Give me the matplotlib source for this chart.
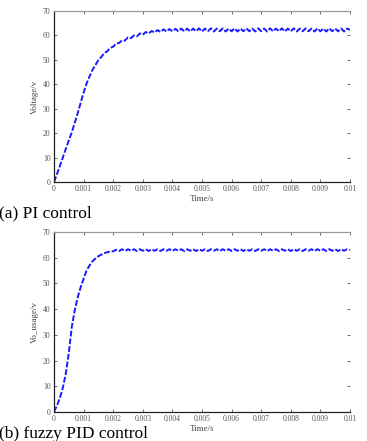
import matplotlib
matplotlib.use("Agg")
import matplotlib.pyplot as plt
import numpy as np

# time grid of the simulation traces (s)
time_s = np.linspace(0, 0.01, 101)

# (a) PI control output voltage
pi_voltage = [0.0, 3.2, 6.6, 10.1, 13.6, 17.0, 20.3, 24.2, 28.1, 32.4,
              36.6, 40.3, 43.2, 45.9, 47.9, 49.9, 51.2, 52.8, 53.5, 54.9,
              55.4, 56.7, 56.9, 58.0, 57.9, 59.2, 58.9, 60.0, 59.6, 60.8,
              60.3, 61.4, 60.8, 61.8, 61.2, 62.2, 61.4, 62.5, 61.6, 62.6,
              61.7, 62.7, 61.7, 62.8, 61.7, 62.8, 61.6, 62.8, 61.7, 62.9,
              61.6, 62.8, 61.7, 62.9, 61.6, 62.8, 61.7, 62.9, 61.6, 62.8,
              61.7, 62.9, 61.6, 62.8, 61.7, 62.9, 61.7, 62.8, 61.6, 62.9,
              61.7, 62.8, 61.6, 62.9, 61.7, 62.8, 61.7, 62.9, 61.6, 62.8,
              61.7, 62.9, 61.6, 62.8, 61.7, 62.9, 61.7, 62.8, 61.6, 62.9,
              61.7, 62.8, 61.6, 62.9, 61.7, 62.8, 61.7, 62.9, 61.6, 62.8,
              62.3]

# (b) fuzzy PID control output voltage
fpid_voltage = [0.0, 2.5, 5.5, 9.5, 15.0, 23.0, 33.0, 39.5, 44.5, 48.5,
                51.8, 55.0, 57.0, 58.6, 59.7, 60.6, 61.2, 61.8, 62.1, 62.5,
                62.5, 63.1, 62.6, 63.3, 62.6, 63.3, 62.7, 63.3, 62.6, 63.3,
                62.7, 63.3, 62.6, 63.3, 62.7, 63.3, 62.6, 63.3, 62.7, 63.3,
                62.6, 63.3, 62.7, 63.3, 62.6, 63.3, 62.7, 63.3, 62.6, 63.3,
                62.7, 63.3, 62.6, 63.3, 62.7, 63.3, 62.6, 63.3, 62.7, 63.3,
                62.6, 63.3, 62.7, 63.3, 62.6, 63.3, 62.7, 63.3, 62.6, 63.3,
                62.7, 63.3, 62.6, 63.3, 62.7, 63.3, 62.6, 63.3, 62.7, 63.3,
                62.6, 63.3, 62.7, 63.3, 62.6, 63.3, 62.7, 63.3, 62.6, 63.3,
                62.7, 63.3, 62.6, 63.3, 62.7, 63.3, 62.6, 63.3, 62.7, 63.3,
                63.0]

x_ticks = [0, 0.001, 0.002, 0.003, 0.004, 0.005, 0.006, 0.007, 0.008, 0.009, 0.01]
x_labels = ["0", "0.001", "0.002", "0.003", "0.004", "0.005",
            "0.006", "0.007", "0.008", "0.009", "0.01"]
y_ticks = [0, 10, 20, 30, 40, 50, 60, 70]

captions = ["(a) PI control", "(b) fuzzy PID control"]
ylabels = ["Voltage/v", "Vo_usage/v"]

W, H = 367, 441
fig = plt.figure(figsize=(W / 100, H / 100), dpi=100)
plt.rcParams["font.family"] = ["Liberation Serif", "DejaVu Serif"]


def style_axes(ax, ylabel):
    ax.set_xlim(0, 0.01)
    ax.set_ylim(0, 70)
    ax.set_xticks(x_ticks)
    ax.set_xticklabels(x_labels)
    ax.set_yticks(y_ticks)
    ax.tick_params(direction="in", top=True, right=True, length=2.5,
                   width=0.6, labelsize=5.5, colors="#555555", pad=2.5)
    for s in ("left", "bottom"):
        ax.spines[s].set_color("#222222")
        ax.spines[s].set_linewidth(0.9)
    ax.spines["top"].set_color("#999999")
    ax.spines["top"].set_linewidth(0.9)
    ax.spines["right"].set_visible(False)
    ax.set_xlabel("Time/s", fontsize=6.5, color="#444444", labelpad=1)
    ax.set_ylabel(ylabel, fontsize=6.5, color="#444444", labelpad=3)


# top: PI control
ax1 = fig.add_axes([54 / W, 1 - 182 / H, 296 / W, 171 / H])
ax1.plot(time_s, pi_voltage, color="#1a1aff", lw=1.4, ls=(0, (3, 1)))
style_axes(ax1, ylabels[0])
fig.text(-1 / W, 1 - 213 / H, captions[0], fontsize=12.5,
         va="center", ha="left", color="black")

# bottom: fuzzy PID control (caption sits on the lower edge)
ax2 = fig.add_axes([54 / W, 1 - 412 / H, 296 / W, 180 / H])
ax2.plot(time_s, fpid_voltage, color="#1a1aff", lw=1.4, ls=(0, (3, 1)))
style_axes(ax2, ylabels[1])
fig.text(-1 / W, 3 / H, captions[1], fontsize=12.5,
         va="baseline", ha="left", color="black")

fig.savefig("out.png", dpi=100)
